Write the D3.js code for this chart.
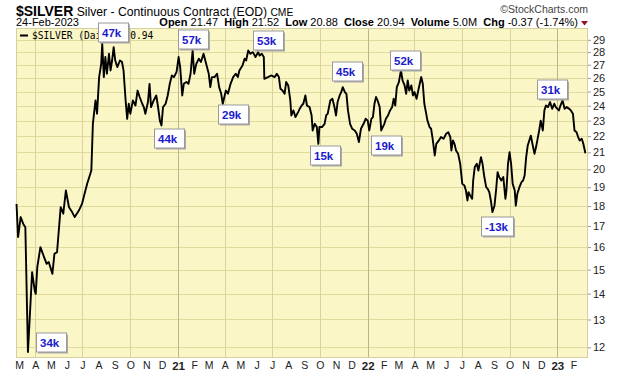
<!DOCTYPE html>
<html lang="en">
<head>
<meta charset="UTF-8">
<title>$SILVER</title>
<script src="https://cdn.jsdelivr.net/npm/d3@7"></script>
<style>
  body { margin: 0; background: #fff; }
  svg { font-family: "Liberation Sans", Arial, sans-serif; }
</style>
</head>
<body>
<svg width="620" height="376"></svg>
<script>
// closing prices (log scale)
const dates = [
  "2020-02-25","2020-02-28","2020-03-04","2020-03-09","2020-03-13","2020-03-18","2020-03-26","2020-03-31","2020-04-02","2020-04-05",
  "2020-04-11","2020-04-18","2020-04-23","2020-04-27","2020-05-04","2020-05-08","2020-05-13","2020-05-20","2020-05-25","2020-05-30",
  "2020-06-05","2020-06-11","2020-06-16","2020-06-24","2020-06-30","2020-07-05","2020-07-10","2020-07-15","2020-07-18","2020-07-21",
  "2020-07-26","2020-07-29","2020-08-02","2020-08-06","2020-08-08","2020-08-11","2020-08-14","2020-08-17","2020-08-21","2020-08-24",
  "2020-08-27","2020-08-30","2020-09-02","2020-09-06","2020-09-11","2020-09-15","2020-09-18","2020-09-22","2020-09-25","2020-09-28",
  "2020-10-01","2020-10-06","2020-10-11","2020-10-15","2020-10-19","2020-10-24","2020-10-27","2020-10-30","2020-11-04","2020-11-07",
  "2020-11-10","2020-11-15","2020-11-20","2020-11-23","2020-11-27","2020-11-30","2020-12-03","2020-12-08","2020-12-12","2020-12-16",
  "2020-12-20","2020-12-24","2020-12-29","2021-01-02","2021-01-05","2021-01-09","2021-01-12","2021-01-17","2021-01-21","2021-01-25",
  "2021-01-29","2021-02-01","2021-02-05","2021-02-10","2021-02-14","2021-02-19","2021-02-24","2021-03-01","2021-03-04","2021-03-07",
  "2021-03-12","2021-03-17","2021-03-21","2021-03-25","2021-03-28","2021-04-03","2021-04-07","2021-04-12","2021-04-17","2021-04-22",
  "2021-04-26","2021-04-29","2021-05-05","2021-05-09","2021-05-12","2021-05-16","2021-05-20","2021-05-25","2021-05-30","2021-06-04",
  "2021-06-07","2021-06-11","2021-06-15","2021-06-16","2021-06-23","2021-06-29","2021-07-06","2021-07-10","2021-07-14","2021-07-17",
  "2021-07-21","2021-07-25","2021-07-28","2021-08-01","2021-08-05","2021-08-07","2021-08-11","2021-08-15","2021-08-20","2021-08-23",
  "2021-08-27","2021-08-30","2021-09-03","2021-09-06","2021-09-11","2021-09-15","2021-09-17","2021-09-21","2021-09-25","2021-09-28",
  "2021-09-30","2021-10-05","2021-10-10","2021-10-13","2021-10-16","2021-10-21","2021-10-25","2021-10-29","2021-11-01","2021-11-04",
  "2021-11-08","2021-11-11","2021-11-14","2021-11-18","2021-11-21","2021-11-24","2021-11-28","2021-12-02","2021-12-07","2021-12-11",
  "2021-12-15","2021-12-19","2021-12-24","2021-12-28","2022-01-01","2022-01-04","2022-01-08","2022-01-11","2022-01-14","2022-01-17",
  "2022-01-20","2022-01-24","2022-01-27","2022-01-30","2022-02-02","2022-02-05","2022-02-09","2022-02-13","2022-02-17","2022-02-20",
  "2022-02-23","2022-02-26","2022-03-02","2022-03-03","2022-03-06","2022-03-09","2022-03-13","2022-03-16","2022-03-19","2022-03-22",
  "2022-03-26","2022-03-29","2022-04-01","2022-04-05","2022-04-09","2022-04-14","2022-04-17","2022-04-20","2022-04-23","2022-04-26",
  "2022-04-30","2022-05-03","2022-05-06","2022-05-10","2022-05-13","2022-05-18","2022-05-22","2022-05-27","2022-06-01","2022-06-05",
  "2022-06-09","2022-06-11","2022-06-14","2022-06-17","2022-06-20","2022-06-24","2022-06-28","2022-07-02","2022-07-06","2022-07-09",
  "2022-07-12","2022-07-14","2022-07-17","2022-07-21","2022-07-23","2022-07-26","2022-07-30","2022-08-02","2022-08-07","2022-08-10",
  "2022-08-13","2022-08-17","2022-08-20","2022-08-23","2022-08-26","2022-08-29","2022-09-02","2022-09-05","2022-09-08","2022-09-11",
  "2022-09-15","2022-09-19","2022-09-23","2022-09-25","2022-09-28","2022-10-01","2022-10-04","2022-10-07","2022-10-11","2022-10-13",
  "2022-10-16","2022-10-20","2022-10-24","2022-10-27","2022-10-30","2022-11-02","2022-11-05","2022-11-08","2022-11-11","2022-11-14",
  "2022-11-18","2022-11-21","2022-11-24","2022-11-27","2022-11-30","2022-12-04","2022-12-07","2022-12-10","2022-12-14","2022-12-18",
  "2022-12-22","2022-12-26","2022-12-29","2023-01-04","2023-01-07","2023-01-11","2023-01-15","2023-01-19","2023-01-24","2023-01-27",
  "2023-01-31","2023-02-03","2023-02-07","2023-02-10","2023-02-13","2023-02-17","2023-02-20","2023-02-24"
];
const prices = [
  18.11,16.47,17.44,17.10,16.94,11.84,14.89,14.13,13.99,15.11,
  16.00,15.55,15.25,15.33,14.82,15.70,15.77,17.94,17.61,18.82,
  17.94,17.69,17.44,17.77,18.11,18.65,19.19,19.65,19.93,22.79,
  24.37,23.46,26.06,27.07,28.67,26.06,27.60,26.31,27.86,26.56,
  27.33,28.40,27.33,26.82,27.33,27.21,26.56,24.37,23.12,24.14,
  23.46,24.37,24.02,25.07,24.61,24.14,23.91,23.46,24.26,25.56,
  23.91,24.37,24.72,24.02,23.00,22.68,23.91,24.14,24.72,25.56,
  26.18,26.06,26.44,27.60,26.82,24.72,25.56,25.69,25.56,26.31,
  28.13,26.31,27.07,27.47,27.21,27.86,27.07,26.31,25.32,26.06,
  26.06,26.31,25.32,24.84,24.14,25.07,24.84,25.56,26.06,26.31,
  26.06,26.56,26.94,27.47,27.33,28.13,27.86,27.99,27.60,27.99,
  27.72,27.86,27.60,25.93,26.06,26.18,26.06,26.31,26.06,25.20,
  25.07,24.84,25.69,25.44,24.37,23.34,23.68,23.23,23.57,23.79,
  24.02,24.14,24.72,24.02,23.91,23.34,22.36,22.79,22.58,21.52,
  22.58,22.58,22.79,23.34,23.46,24.37,24.49,23.91,23.34,24.26,
  24.72,24.96,25.32,24.96,24.84,23.68,22.79,22.47,22.36,22.15,
  21.63,22.47,22.79,23.12,23.00,22.36,23.12,23.23,24.14,24.61,
  24.37,23.91,22.36,22.58,22.79,23.12,23.34,23.68,23.91,24.49,
  24.02,25.32,25.69,25.93,26.56,25.81,25.44,24.84,25.81,25.07,
  25.44,24.72,24.96,24.49,25.20,26.06,25.56,24.14,23.57,23.00,
  22.58,22.47,21.83,20.81,21.52,21.73,21.94,21.83,22.15,22.25,
  21.94,21.11,21.73,21.52,21.11,20.91,20.32,19.19,19.10,18.82,
  18.29,18.73,18.56,18.38,19.37,20.13,20.32,19.93,20.71,20.32,
  19.65,19.00,18.91,18.73,18.29,17.69,18.02,18.82,19.84,19.56,
  19.37,19.56,18.38,18.82,20.32,21.01,20.32,19.19,18.82,18.02,
  18.65,19.00,19.28,19.37,19.65,20.71,21.42,21.73,22.03,21.52,
  20.91,21.32,21.83,22.36,23.00,22.36,23.68,24.02,23.91,24.26,
  23.79,24.14,23.91,23.68,24.02,24.37,23.79,23.91,23.79,23.68,
  23.46,22.36,22.25,21.94,21.73,21.83,21.52,20.94
];

// volume change notes (box centre in date / price terms)
const noteLabels = ["34k", "47k", "44k", "57k", "29k", "53k", "15k", "45k", "19k", "52k", "-13k", "31k"];
const noteDates = ["2020-05-01", "2020-08-28", "2020-12-14", "2021-01-29", "2021-04-16", "2021-06-23",
                   "2021-10-10", "2021-11-22", "2022-02-06", "2022-03-13", "2022-09-06", "2022-12-21"];
const notePrices = [12.18, 29.63, 21.86, 29.04, 23.42, 28.96, 20.82, 26.50, 21.43, 27.39, 16.98, 25.16];

const priceTicks = d3.range(12, 30);

const svg = d3.select('svg');
const plot = {left: 16, right: 588, top: 28, bottom: 358};
const parse = d3.timeParse('%Y-%m-%d');
const data = dates.map((d, i) => ({date: parse(d), price: prices[i]}));

const start = parse('2020-02-24'), end = parse('2023-03-01');
const x = d3.scaleTime().domain([start, end]).range([plot.left, plot.right]);
const y = d3.scaleLog().domain([11.64, 30]).range([plot.bottom, plot.top]);

// plot background
svg.append('rect')
    .attr('x', plot.left).attr('y', plot.top)
    .attr('width', plot.right - plot.left).attr('height', plot.bottom - plot.top)
    .attr('fill', '#faf6c6');

// horizontal grid
svg.append('g').selectAll('line')
    .data(priceTicks)
    .join('line')
    .attr('x1', plot.left).attr('x2', plot.right)
    .attr('y1', d => Math.round(y(d)) + 0.5).attr('y2', d => Math.round(y(d)) + 0.5)
    .attr('stroke', '#e0da9e');

// vertical grid, quarterly, darker at year start
const quarters = d3.timeMonth.every(3).range(start, end);
svg.append('g').selectAll('line')
    .data(quarters)
    .join('line')
    .attr('x1', d => Math.round(x(d)) + 0.5).attr('x2', d => Math.round(x(d)) + 0.5)
    .attr('y1', plot.top).attr('y2', plot.bottom)
    .attr('stroke', d => d.getMonth() === 0 ? '#b9b58e' : '#dad49c');

// border
svg.append('rect')
    .attr('x', plot.left + 0.5).attr('y', plot.top + 0.5)
    .attr('width', plot.right - plot.left - 1).attr('height', plot.bottom - plot.top - 1)
    .attr('fill', 'none').attr('stroke', '#d6d0a0');

// price line
const line = d3.line().x(d => x(d.date)).y(d => y(d.price));
svg.append('path')
    .datum(data)
    .attr('d', line)
    .attr('fill', 'none')
    .attr('stroke', '#000')
    .attr('stroke-width', 1.9)
    .attr('stroke-linejoin', 'round');

// right price axis
const yAxis = svg.append('g')
    .attr('transform', `translate(${plot.right},0)`)
    .call(d3.axisRight(y).tickValues(priceTicks).tickFormat(d3.format('d')).tickSize(3).tickPadding(2));
yAxis.select('.domain').remove();
yAxis.selectAll('line').attr('stroke', '#999');
yAxis.selectAll('text').attr('font-size', 11).attr('fill', '#222')
    .attr('font-family', '"Liberation Sans", Arial, sans-serif');

// month labels
const months = d3.timeMonth.range(d3.timeMonth.ceil(start), end);
const xAxis = svg.append('g')
    .attr('transform', `translate(0,${plot.bottom})`)
    .call(d3.axisBottom(x).tickValues(months).tickSize(0).tickPadding(4)
        .tickFormat(d => d.getMonth() === 0 ? d3.timeFormat('%y')(d) : d3.timeFormat('%b')(d)[0]));
xAxis.select('.domain').remove();
xAxis.selectAll('text')
    .attr('fill', '#222')
    .attr('font-family', '"Liberation Sans", Arial, sans-serif')
    .attr('font-weight', d => d.getMonth() === 0 ? 'bold' : 'normal')
    .attr('font-size', d => d.getMonth() === 0 ? 11.5 : 10.5);

// header
const head = svg.append('text').attr('x', 16).attr('y', 16);
head.append('tspan').text('$SILVER').attr('font-weight', 'bold').attr('font-size', 14);
head.append('tspan').text(' Silver - Continuous Contract (EOD) ').attr('font-size', 12.2);
head.append('tspan').text('CME').attr('font-size', 10.3);

svg.append('text').attr('x', 16).attr('y', 26).attr('font-size', 11).text('24-Feb-2023');

svg.append('text').attr('x', 588).attr('y', 13).attr('text-anchor', 'end')
    .attr('font-size', 10.5).attr('fill', '#444').text('\u00a9StockCharts.com');

const stats = [['Open', ' 21.47  '], ['High', ' 21.52  '], ['Low', ' 20.88  '], ['Close', ' 20.94  '],
               ['Volume', ' 5.0M  '], ['Chg', ' -0.37 (-1.74%)']];
const st = svg.append('text').attr('x', 578).attr('y', 26).attr('text-anchor', 'end')
    .attr('font-size', 11).attr('style', 'white-space:pre');
stats.forEach(([k, v]) => {
    st.append('tspan').attr('font-weight', 'bold').text(k);
    st.append('tspan').text(v);
});
svg.append('path').attr('d', 'M581,21L588,21L584.5,25.5Z').attr('fill', '#99102a');

// legend
svg.append('line').attr('x1', 20).attr('x2', 28).attr('y1', 35.5).attr('y2', 35.5)
    .attr('stroke', '#000').attr('stroke-width', 2);
svg.append('text').attr('x', 32).attr('y', 39)
    .attr('font-family', '"DejaVu Sans Mono", monospace').attr('font-size', 9.6)
    .text('$SILVER (Daily) 20.94');

// volume notes
const notes = svg.append('g').selectAll('g')
    .data(noteLabels.map((t, i) => ({label: t, date: parse(noteDates[i]), price: notePrices[i]})))
    .join('g')
    .attr('transform', d => `translate(${Math.round(x(d.date))},${Math.round(y(d.price))})`);
notes.each(function(d) {
    const g = d3.select(this);
    const w = d.label.length > 3 ? 32 : 30, h = 19;
    g.append('rect').attr('x', -w / 2 + 2).attr('y', -h / 2 + 2).attr('width', w).attr('height', h)
        .attr('fill', '#aaa');
    g.append('rect').attr('x', -w / 2 + 0.5).attr('y', -h / 2 + 0.5).attr('width', w).attr('height', h)
        .attr('fill', '#fff').attr('stroke', '#999');
    g.append('text').attr('x', -w / 2 + 4).attr('y', 4.5)
        .attr('font-weight', 'bold').attr('font-size', 11.5).attr('fill', '#1a1acc')
        .text(d.label);
});
</script>
</body>
</html>
